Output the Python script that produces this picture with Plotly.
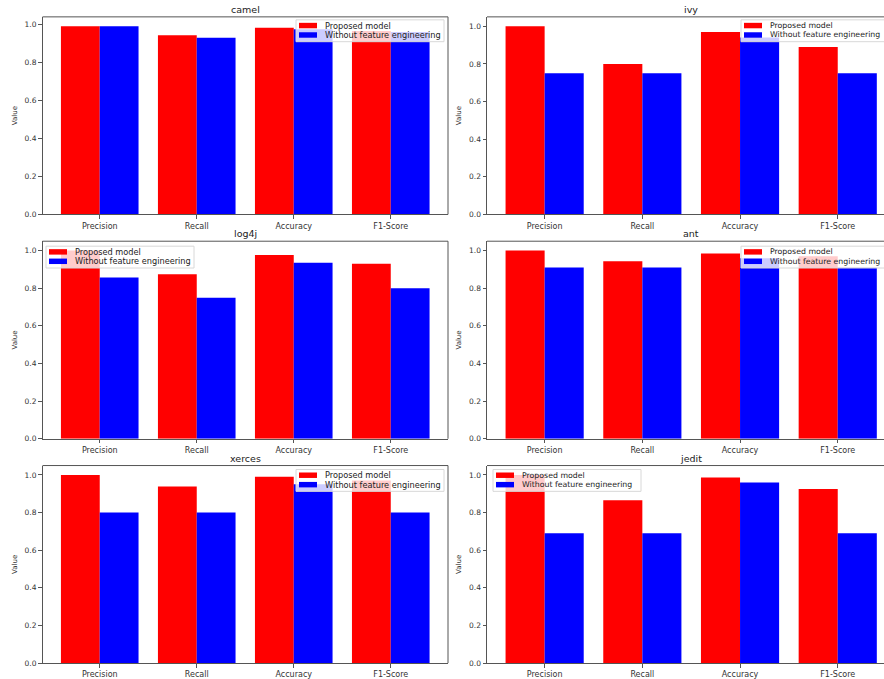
import plotly.graph_objects as go

metrics = ["Precision", "Recall", "Accuracy", "F1-Score"]
projects = ["camel", "ivy", "log4j", "ant", "xerces", "jedit"]

proposed_camel = [0.99, 0.943, 0.982, 0.965]
without_camel = [0.99, 0.93, 0.975, 0.96]
proposed_ivy = [1.0, 0.80, 0.97, 0.89]
without_ivy = [0.75, 0.75, 0.94, 0.75]
proposed_log4j = [1.0, 0.875, 0.977, 0.93]
without_log4j = [0.857, 0.75, 0.935, 0.80]
proposed_ant = [1.0, 0.943, 0.985, 0.97]
without_ant = [0.91, 0.91, 0.96, 0.91]
proposed_xerces = [1.0, 0.938, 0.99, 0.97]
without_xerces = [0.80, 0.80, 0.95, 0.80]
proposed_jedit = [1.0, 0.865, 0.987, 0.925]
without_jedit = [0.69, 0.69, 0.96, 0.69]

proposed = [proposed_camel, proposed_ivy, proposed_log4j, proposed_ant, proposed_xerces, proposed_jedit]
without = [without_camel, without_ivy, without_log4j, without_ant, without_xerces, without_jedit]
series_names = ["Proposed model", "Without feature engineering"]
series_colors = ["#ff0000", "#0000ff"]

W, H = 884, 679
FONT = "DejaVu Sans"

col_px = [(42.5, 448.0), (487.0, 884.0)]
row_px = [(17.0, 216.0), (243.0, 442.0), (469.0, 668.0)]
px_per_unit = [(448.0 - 42.5) / 4.18, 97.7]

# legend box top-left corners in pixels
legend_boxes = [(296, 20), (741, 20), (46, 248), (741, 248), (296, 473), (493, 473)]
LEG_W, LEG_H = 148, 22

fig = go.Figure()
layout = dict(
    width=W, height=H,
    margin=dict(l=0, r=0, t=0, b=0),
    paper_bgcolor="white", plot_bgcolor="white",
    font=dict(family=FONT, size=8, color="#333"),
    barmode="group", bargap=0.2, bargroupgap=0,
    showlegend=False,
)
annotations = []
shapes = []

def px2paper(x, y):
    return x / W, 1 - y / H

for i, name in enumerate(projects):
    r, c = divmod(i, 2)
    n = i + 1
    xa = "x" if n == 1 else f"x{n}"
    ya = "y" if n == 1 else f"y{n}"
    L, R = col_px[c]
    T, B = row_px[r]
    xd = [L / W, R / W]
    yd = [1 - B / H, 1 - T / H]
    ppu = px_per_unit[c]
    xr = [-0.59, -0.59 + (R - L) / ppu]
    ymax = max(max(proposed[i]), max(without[i])) * 1.05

    for vals, sname, col, og in ((proposed[i], series_names[0], series_colors[0], "a"),
                                 (without[i], series_names[1], series_colors[1], "b")):
        fig.add_trace(go.Bar(x=list(range(4)), y=vals, name=sname,
                             marker=dict(color=col, line=dict(width=0)),
                             xaxis=xa, yaxis=ya, offsetgroup=og))

    axkey_x = "xaxis" if n == 1 else f"xaxis{n}"
    axkey_y = "yaxis" if n == 1 else f"yaxis{n}"
    layout[axkey_x] = dict(
        domain=xd, range=xr, anchor=ya,
        tickmode="array", tickvals=list(range(4)), ticktext=metrics,
        showline=True, linecolor="#555", linewidth=1, mirror=False,
        ticks="outside", ticklen=3.5, tickcolor="#555",
        showgrid=False, zeroline=False, fixedrange=True,
        tickfont=dict(family=FONT, size=8, color="#333"),
    )
    layout[axkey_y] = dict(
        domain=yd, range=[0, ymax], anchor=xa,
        tickmode="array", tickvals=[0, 0.2, 0.4, 0.6, 0.8, 1.0],
        ticktext=["0.0", "0.2", "0.4", "0.6", "0.8", "1.0"],
        showline=True, linecolor="#555", linewidth=1, mirror=False,
        ticks="outside", ticklen=3.5, tickcolor="#555",
        showgrid=False, zeroline=False, fixedrange=True,
        tickfont=dict(family=FONT, size=7.5, color="#333"),
        title=dict(text="Value", font=dict(family=FONT, size=7, color="#333"), standoff=6),
    )
    shapes.append(dict(type="line", xref="paper", yref="paper",
                       x0=xd[0], x1=xd[1], y0=yd[1], y1=yd[1],
                       line=dict(color="#555", width=1)))
    if c == 0:
        shapes.append(dict(type="line", xref="paper", yref="paper",
                           x0=xd[1], x1=xd[1], y0=yd[0], y1=yd[1],
                           line=dict(color="#555", width=1)))
    title_x = (L + 0.59 * ppu + 1.5 * ppu) / W
    annotations.append(dict(text=name, xref="paper", yref="paper",
                            x=title_x, y=yd[1], yanchor="bottom", xanchor="center", yshift=0,
                            showarrow=False, font=dict(family=FONT, size=9.5, color="#222")))

    # legend box drawn on top of the bars
    lx, ly = legend_boxes[i]
    x0, y1 = px2paper(lx, ly)
    x1, y0 = px2paper(lx + LEG_W, ly + LEG_H)
    shapes.append(dict(type="rect", xref="paper", yref="paper", layer="above",
                       x0=x0, x1=x1, y0=y0, y1=y1,
                       fillcolor="rgba(255,255,255,0.8)", line=dict(color="#d8d8d8", width=1)))
    leg_font = 7.8 if c == 1 else 8.2
    for k in range(2):
        sy = ly + 3 + k * 9.5
        sx0, sy0 = px2paper(lx + 3, sy + 5.5)
        sx1, sy1 = px2paper(lx + 21, sy)
        shapes.append(dict(type="rect", xref="paper", yref="paper", layer="above",
                           x0=sx0, x1=sx1, y0=sy0, y1=sy1,
                           fillcolor=series_colors[k], line=dict(width=0)))
        tx, ty = px2paper(lx + 27, sy + 2.75)
        annotations.append(dict(text=series_names[k], xref="paper", yref="paper",
                                x=tx, y=ty, xanchor="left", yanchor="middle",
                                showarrow=False,
                                font=dict(family=FONT, size=leg_font, color="#222")))

layout["annotations"] = annotations
layout["shapes"] = shapes
fig.update_layout(**layout)
fig.write_html("out.html")
